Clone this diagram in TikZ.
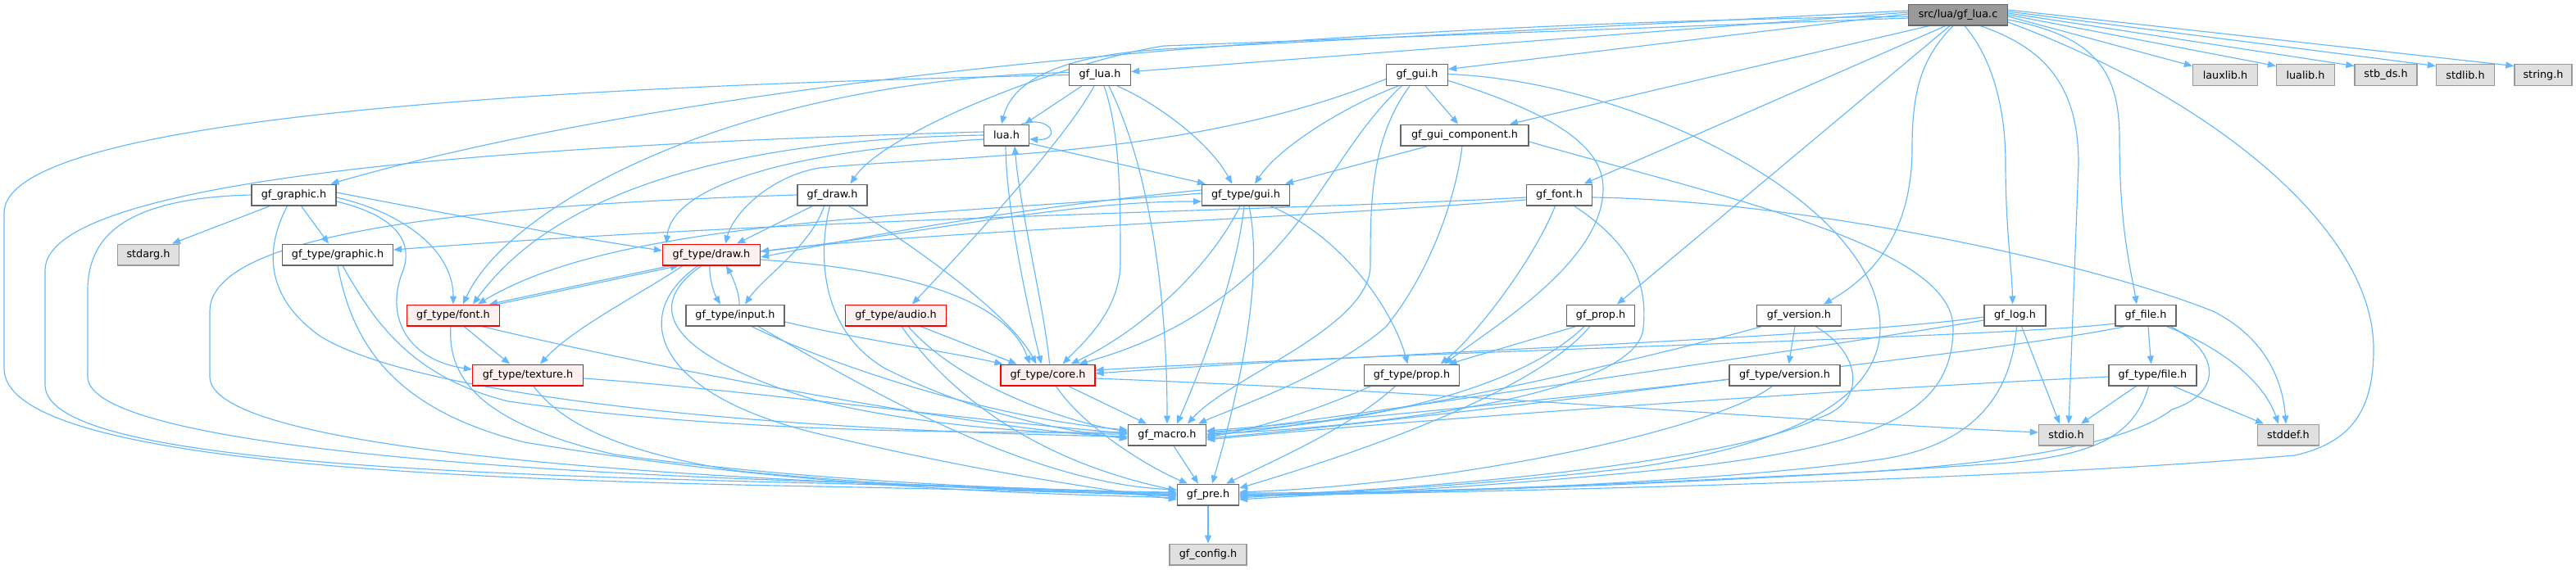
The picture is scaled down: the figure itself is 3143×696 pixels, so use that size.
\documentclass[tikz,border=0pt]{standalone}
\usepackage{fontspec}
\setmainfont{DejaVu Sans}
\usetikzlibrary{arrows.meta}
\definecolor{edgec}{HTML}{63B8FF}
\definecolor{bordc}{HTML}{666666}
\definecolor{extb}{HTML}{999999}
\definecolor{extf}{HTML}{E0E0E0}
\definecolor{redb}{HTML}{FF0000}
\definecolor{redf}{HTML}{FFF0F0}
\definecolor{rootf}{HTML}{999999}
\pgfdeclarelayer{bg}
\pgfsetlayers{bg,main}
\begin{document}
\begin{tikzpicture}[x=1pt,y=-1pt,
  nb/.style={draw=bordc, line width=1.3pt, fill=white, minimum height=25.7pt, inner sep=0pt, font=\fontsize{12.8}{15}\selectfont},
  nr/.style={nb, draw=redb, fill=redf},
  ng/.style={nb, draw=extb, fill=extf},
  nroot/.style={nb, draw=bordc, fill=rootf},
  lnk/.style={draw=edgec, line width=1.15pt, -{Triangle[length=10pt,width=8pt]}}]
\useasboundingbox (0,0) rectangle (3143,696);
% nodes
\node[nroot, minimum width=120.5pt] (root) at (2389,18) {src/lua/gf\_lua.c};
\node[nb, minimum width=75pt] (gflua) at (1342,91.5) {gf\_lua.h};
\node[nb, minimum width=75pt] (gfgui) at (1729,91.5) {gf\_gui.h};
\node[ng, minimum width=79pt] (lauxlib) at (2715,91.5) {lauxlib.h};
\node[ng, minimum width=71pt] (lualib) at (2813,91.5) {lualib.h};
\node[ng, minimum width=76pt] (stbds) at (2911,91.5) {stb\_ds.h};
\node[ng, minimum width=71pt] (stdlib) at (3008,91.5) {stdlib.h};
\node[ng, minimum width=70pt] (string) at (3103,91.5) {string.h};
\node[nb, minimum width=55pt] (lua) at (1228,165) {lua.h};
\node[nb, minimum width=156pt] (guicomp) at (1787,165) {gf\_gui\_component.h};
\node[nb, minimum width=103pt] (graphic) at (358.5,238) {gf\_graphic.h};
\node[nb, minimum width=85pt] (draw) at (1015.5,238) {gf\_draw.h};
\node[nb, minimum width=107pt] (tgui) at (1520,238) {gf\_type/gui.h};
\node[nb, minimum width=80pt] (font) at (1902.5,238) {gf\_font.h};
\node[ng, minimum width=75pt] (stdarg) at (181,311) {stdarg.h};
\node[nb, minimum width=135pt] (tgraphic) at (412,311) {gf\_type/graphic.h};
\node[nr, minimum width=119pt] (tdraw) at (868,311) {gf\_type/draw.h};
\node[nr, minimum width=113pt] (tfont) at (553,385) {gf\_type/font.h};
\node[nb, minimum width=120pt] (tinput) at (897,385) {gf\_type/input.h};
\node[nr, minimum width=123pt] (taudio) at (1093,385) {gf\_type/audio.h};
\node[nb, minimum width=83pt] (prop) at (1953,385) {gf\_prop.h};
\node[nb, minimum width=103pt] (version) at (2195,385) {gf\_version.h};
\node[nb, minimum width=75pt] (log) at (2458.5,385) {gf\_log.h};
\node[nb, minimum width=74pt] (file) at (2618,385) {gf\_file.h};
\node[nr, minimum width=135pt] (ttexture) at (644,458) {gf\_type/texture.h};
\node[nr, minimum width=115pt] (tcore) at (1278.5,458) {gf\_type/core.h};
\node[nb, minimum width=116pt] (tprop) at (1722.5,458) {gf\_type/prop.h};
\node[nb, minimum width=135pt] (tversion) at (2177.5,458) {gf\_type/version.h};
\node[nb, minimum width=107pt] (tfile) at (2626.5,458) {gf\_type/file.h};
\node[nb, minimum width=95pt] (macro) at (1424,531) {gf\_macro.h};
\node[ng, minimum width=67pt] (stdio) at (2521,531) {stdio.h};
\node[ng, minimum width=75pt] (stddef) at (2792,531) {stddef.h};
\node[nb, minimum width=75pt] (pre) at (1474,604) {gf\_pre.h};
\node[ng, minimum width=94pt] (config) at (1474,677) {gf\_config.h};
\begin{pgfonlayer}{bg}
% root
\draw[lnk] ([yshift=3pt]root.west) -- ([yshift=4pt]gflua.east);
\draw[lnk] ([yshift=1pt]root.west) -- ([yshift=7pt]gfgui.east);
\draw[lnk] ([yshift=5pt]root.west) -- (1420,60) .. controls (1290,68) and (1235,100) .. ([xshift=-6pt]lua.north);
\draw[lnk] ([yshift=-2pt]root.west) .. controls (1500,30) and (800,110) .. ([xshift=45pt]graphic.north);
\draw[lnk] ([yshift=-4pt]root.west) -- (1420,56) .. controls (1300,75) and (1080,160) .. ([xshift=22pt]draw.north);
\draw[lnk] ([xshift=-35pt]root.south) -- ([xshift=55pt]guicomp.north);
\draw[lnk] ([xshift=-15pt]root.south) -- ([xshift=30pt]font.north);
\draw[lnk] ([xshift=-10pt]root.south) -- ([xshift=20pt]prop.north);
\draw[lnk] ([xshift=-6pt]root.south) .. controls (2345,70) and (2333,110) .. (2333,180) .. controls (2333,290) and (2280,340) .. ([xshift=30pt]version.north);
\draw[lnk] ([xshift=8pt]root.south) .. controls (2430,70) and (2447,130) .. (2447,200) .. controls (2447,280) and (2455,330) .. ([xshift=-3pt]log.north);
\draw[lnk] ([xshift=27pt]root.south) .. controls (2500,60) and (2536,110) .. (2536,200) -- ([xshift=3pt]stdio.north);
\draw[lnk] ([yshift=-6pt]root.east) .. controls (2560,45) and (2586,90) .. (2586,170) .. controls (2586,280) and (2600,330) .. ([xshift=-11pt]file.north);
\draw[lnk] ([yshift=-2pt]root.east) -- ([yshift=11pt]lauxlib.west);
\draw[lnk] ([yshift=0pt]root.east) -- ([yshift=11pt]lualib.west);
\draw[lnk] ([yshift=2pt]root.east) -- ([yshift=11pt]stbds.west);
\draw[lnk] ([yshift=4pt]root.east) -- ([yshift=11pt]stdlib.west);
\draw[lnk] ([yshift=6pt]root.east) -- ([yshift=11pt]string.west);
\draw[lnk] ([yshift=-9pt]root.east) .. controls (2700,120) and (2896,280) .. (2896,426) .. controls (2896,500) and (2870,540) .. (2800,556) .. controls (2400,590) and (1800,600) .. ([yshift=-2pt]pre.east);
% gf_lua.h
\draw[lnk] ([xshift=-22pt]gflua.south) -- ([xshift=22pt]lua.north);
\draw[lnk] ([xshift=-7pt]gflua.south) .. controls (1300,170) and (1180,300) .. ([xshift=20pt]taudio.north);
\draw[lnk] ([xshift=5pt]gflua.south) .. controls (1367,160) and (1367,250) .. (1367,320) .. controls (1367,380) and (1320,420) .. ([xshift=18pt]tcore.north);
\draw[lnk] ([xshift=11pt]gflua.south) .. controls (1400,200) and (1424,350) .. (macro.north);
\draw[lnk] ([xshift=21pt]gflua.south) .. controls (1420,130) and (1480,180) .. ([xshift=-17pt]tgui.north);
\draw[lnk] (gflua.west) .. controls (700,105) and (5,140) .. (5,260) -- (5,450) .. controls (5,560) and (500,585) .. (1000,594) .. controls (1200,598) and (1350,602) .. ([yshift=-2pt]pre.west);
\draw[lnk] ([yshift=3pt]gflua.west) .. controls (900,98) and (620,250) .. ([xshift=12pt]tfont.north);
% lua.h
\draw[lnk] ([xshift=18pt]lua.north) .. controls (1285,140) and (1295,172) .. ([yshift=-5pt]lua.east);
\draw[lnk] ([yshift=-10pt]lua.east) -- ([xshift=5pt]tgui.north west);
\draw[lnk] ([xshift=-1pt]lua.south) .. controls (1228,260) and (1255,380) .. ([xshift=-8pt]tcore.north);
\draw[lnk] ([xshift=2pt]tcore.north) .. controls (1275,380) and (1245,260) .. ([xshift=10pt]lua.south);
\draw[lnk] ([yshift=0pt]lua.west) .. controls (900,170) and (680,230) .. ([xshift=24pt]tfont.north);
\draw[lnk] ([yshift=-5pt]lua.west) .. controls (950,185) and (820,230) .. ([xshift=-55pt]tdraw.north);
\draw[lnk] ([yshift=4pt]lua.west) .. controls (700,175) and (55,210) .. (55,330) -- (55,470) .. controls (55,560) and (500,578) .. (1000,590) .. controls (1200,595) and (1350,600) .. ([yshift=0pt]pre.west);
% gf_graphic.h
\draw[lnk] ([xshift=-29pt]graphic.south) -- ([xshift=29pt]stdarg.north);
\draw[lnk] ([xshift=9pt]graphic.south) -- ([xshift=-11pt]tgraphic.north);
\draw[lnk] (graphic.west) .. controls (150,242) and (107,290) .. (107,355) -- (107,460) .. controls (107,540) and (600,575) .. (1000,588) .. controls (1200,594) and (1350,600) .. ([yshift=2pt]pre.west);
\draw[lnk] ([yshift=3pt]graphic.east) .. controls (550,262) and (700,290) .. ([yshift=5pt]tdraw.west);
\draw[lnk] ([yshift=-3pt]graphic.east) .. controls (500,262) and (553,310) .. (tfont.north);
\draw[lnk] ([yshift=-8pt]graphic.east) .. controls (490,265) and (505,300) .. (490,335) .. controls (470,390) and (500,440) .. ([yshift=7pt]ttexture.west);
\draw[lnk] ([xshift=-8pt]graphic.south) .. controls (325,300) and (320,360) .. (390,410) .. controls (500,480) and (900,525) .. ([yshift=-2pt]macro.west);
% gf_type/graphic.h
\draw[lnk] ([xshift=6pt]tgraphic.south) .. controls (455,390) and (500,460) .. (620,490) .. controls (900,530) and (1200,528) .. ([yshift=3pt]macro.west);
\draw[lnk] (tgraphic.south) .. controls (430,420) and (480,500) .. (640,540) .. controls (1000,600) and (1300,603) .. ([yshift=-4pt]pre.west);
% gf_font.h
\draw[lnk] ([yshift=-3pt]font.west) .. controls (1600,256) and (1000,265) .. ([yshift=6pt]tgraphic.east);
\draw[lnk] ([yshift=-6pt]font.west) .. controls (1600,265) and (1100,285) .. ([yshift=4pt]tdraw.east);
\draw[lnk] ([xshift=-5pt]font.south) .. controls (1870,320) and (1800,410) .. ([xshift=35pt]tprop.north);
\draw[lnk] ([xshift=18pt]font.south) .. controls (1995,300) and (2010,350) .. (2005,400) .. controls (2000,480) and (1700,520) .. ([yshift=1pt]macro.east);
\draw[lnk] ([yshift=-3pt]font.east) .. controls (2200,245) and (2550,320) .. (2700,380) .. controls (2760,410) and (2785,460) .. ([xshift=-3pt]stddef.north);
% gf_draw.h
\draw[lnk] ([xshift=-24pt]draw.south) -- ([xshift=31pt]tdraw.north);
\draw[lnk] ([xshift=-10pt]draw.south) .. controls (990,300) and (930,340) .. ([xshift=12pt]tinput.north);
\draw[lnk] ([xshift=20pt]draw.south) .. controls (1100,290) and (1230,380) .. ([xshift=-14pt]tcore.north);
\draw[lnk] ([xshift=-3pt]draw.south) .. controls (1000,300) and (995,400) .. (1080,450) .. controls (1200,510) and (1300,525) .. ([yshift=-5pt]macro.west);
\draw[lnk] (draw.west) .. controls (600,250) and (256,280) .. (256,380) -- (256,460) .. controls (256,540) and (700,575) .. (1100,592) .. controls (1250,598) and (1380,603) .. ([yshift=-1pt]pre.west);
% gf_gui.h
\draw[lnk] ([yshift=-5pt]gfgui.west) .. controls (1450,195) and (1150,190) .. (1000,205) .. controls (940,215) and (895,260) .. ([xshift=17pt]tdraw.north);
\draw[lnk] ([xshift=-23pt]gfgui.south) .. controls (1640,130) and (1560,180) .. ([xshift=11pt]tgui.north);
\draw[lnk] ([xshift=-19pt]gfgui.south) .. controls (1620,190) and (1600,300) .. (1450,390) .. controls (1400,420) and (1350,435) .. ([xshift=38pt]tcore.north);
\draw[lnk] ([xshift=-9pt]gfgui.south) .. controls (1672,170) and (1672,250) .. (1672,324) .. controls (1672,400) and (1500,460) .. ([xshift=25pt]macro.north);
\draw[lnk] ([xshift=10pt]gfgui.south) -- ([xshift=-8pt]guicomp.north);
\draw[lnk] ([yshift=-7pt]gfgui.east) .. controls (1900,140) and (1956,180) .. (1956,230) .. controls (1956,320) and (1820,400) .. ([xshift=40pt]tprop.north);
\draw[lnk] ([yshift=1pt]gfgui.east) .. controls (2000,100) and (2294,250) .. (2294,400) .. controls (2294,480) and (2200,540) .. (2000,570) .. controls (1800,595) and (1600,602) .. ([yshift=-4pt]pre.east);
% gf_gui_component.h
\draw[lnk] ([xshift=-45pt]guicomp.south) -- ([xshift=48pt]tgui.north);
\draw[lnk] ([xshift=-3pt]guicomp.south) .. controls (1775,250) and (1740,340) .. (1690,400) .. controls (1620,460) and (1500,500) .. ([xshift=38pt]macro.north);
\draw[lnk] ([yshift=-8pt]guicomp.east) .. controls (2100,240) and (2383,300) .. (2383,400) .. controls (2383,500) and (2300,540) .. (2080,568) .. controls (1800,598) and (1600,604) .. ([yshift=-6pt]pre.east);
% gf_type/gui.h
\draw[lnk] ([yshift=6pt]tgui.west) .. controls (1200,258) and (1000,300) .. ([yshift=-3pt]tdraw.east);
\draw[lnk] ([yshift=2pt]tgui.west) .. controls (1100,265) and (750,270) .. ([xshift=30pt]tfont.north);
\draw[lnk] ([yshift=4pt]tdraw.east) .. controls (1100,290) and (1300,245) .. ([yshift=-8pt]tgui.west);
\draw[lnk] ([xshift=-7pt]tgui.south) .. controls (1480,320) and (1400,400) .. ([xshift=28pt]tcore.north);
\draw[lnk] ([xshift=-2pt]tgui.south) .. controls (1510,330) and (1470,440) .. ([xshift=12pt]macro.north);
\draw[lnk] ([xshift=4pt]tgui.south) .. controls (1540,330) and (1520,450) .. ([xshift=5pt]pre.north);
\draw[lnk] ([xshift=30pt]tgui.south) .. controls (1640,290) and (1700,380) .. ([xshift=-5pt]tprop.north);
% gf_type/draw.h
\draw[lnk] ([xshift=-50pt]tdraw.south) -- ([xshift=44pt]tfont.north);
\draw[lnk] ([xshift=54pt]tfont.north) -- ([xshift=-40pt]tdraw.south);
\draw[lnk] ([xshift=-35pt]tdraw.south) .. controls (780,360) and (700,400) .. ([xshift=15pt]ttexture.north);
\draw[lnk] ([xshift=-2pt]tdraw.south) .. controls (865,340) and (872,360) .. ([xshift=-18pt]tinput.north);
\draw[lnk] ([xshift=5pt]tinput.north) .. controls (902,355) and (892,335) .. ([xshift=18pt]tdraw.south);
\draw[lnk] ([xshift=-12pt]tdraw.south) .. controls (790,370) and (800,430) .. (1000,490) .. controls (1150,525) and (1300,530) .. ([yshift=1pt]macro.west);
\draw[lnk] ([xshift=-16pt]tdraw.south) .. controls (770,380) and (790,480) .. (1000,530) .. controls (1200,578) and (1350,598) .. ([yshift=-6pt]pre.west);
\draw[lnk] ([yshift=-6pt]tdraw.east) .. controls (1120,330) and (1230,370) .. ([xshift=-22pt]tcore.north);
% gf_type/font.h
\draw[lnk] ([xshift=13pt]tfont.south) -- ([xshift=-22pt]ttexture.north);
\draw[lnk] ([xshift=35pt]tfont.south) .. controls (800,450) and (1200,525) .. ([yshift=-3pt]macro.west);
\draw[lnk] ([xshift=-3pt]tfont.south) .. controls (545,470) and (600,520) .. (750,555) .. controls (1000,590) and (1300,600) .. ([yshift=3pt]pre.west);
% gf_type/texture.h
\draw[lnk] ([yshift=-4pt]ttexture.east) .. controls (900,475) and (1200,515) .. ([yshift=2pt]macro.west);
\draw[lnk] ([xshift=7pt]ttexture.south) .. controls (680,510) and (740,550) .. (900,575) .. controls (1100,595) and (1300,602) .. ([yshift=1pt]pre.west);
% gf_type/audio.h
\draw[lnk] ([xshift=30pt]taudio.south) -- ([xshift=-38pt]tcore.north);
\draw[lnk] ([xshift=15pt]taudio.south) .. controls (1170,470) and (1300,515) .. ([yshift=4pt]macro.west);
\draw[lnk] ([xshift=7pt]taudio.south) .. controls (1150,470) and (1250,560) .. ([yshift=5pt]pre.west);
% gf_type/input.h
\draw[lnk] ([yshift=-8pt]tinput.east) .. controls (1050,415) and (1150,428) .. ([xshift=-55pt]tcore.north);
\draw[lnk] ([xshift=20pt]tinput.south) .. controls (1000,440) and (1200,510) .. ([yshift=6pt]macro.west);
\draw[lnk] ([xshift=28pt]tinput.south) .. controls (1050,470) and (1250,590) .. ([yshift=6pt]pre.west);
% gf_prop.h
\draw[lnk] ([xshift=-30pt]prop.south) -- ([xshift=45pt]tprop.north);
\draw[lnk] ([xshift=-20pt]prop.south) .. controls (1850,480) and (1650,520) .. ([yshift=4pt]macro.east);
\draw[lnk] ([xshift=-13pt]prop.south) .. controls (1880,470) and (1700,540) .. ([yshift=8pt]pre.east);
% gf_version.h
\draw[lnk] ([xshift=-5pt]version.south) -- ([xshift=5pt]tversion.north);
\draw[lnk] ([xshift=-45pt]version.south) .. controls (2000,440) and (1700,510) .. ([yshift=-1pt]macro.east);
\draw[lnk] ([xshift=20pt]version.south) .. controls (2270,430) and (2280,490) .. (2220,510) .. controls (2100,570) and (1700,600) .. ([yshift=-1pt]pre.east);
% gf_type/version.h
\draw[lnk] ([yshift=-5pt]tversion.west) .. controls (1900,490) and (1600,525) .. ([yshift=-4pt]macro.east);
\draw[lnk] ([xshift=-15pt]tversion.south) .. controls (2100,520) and (1800,590) .. ([yshift=3pt]pre.east);
% gf_log.h
\draw[lnk] ([xshift=8pt]log.south) -- ([xshift=-8pt]stdio.north);
\draw[lnk] ([xshift=2pt]log.south) .. controls (2455,470) and (2420,540) .. (2300,560) .. controls (2100,590) and (1700,604) .. (pre.east);
\draw[lnk] ([yshift=-2pt]log.west) .. controls (2250,412) and (1700,430) .. ([yshift=2pt]tcore.east);
\draw[lnk] ([yshift=-6pt]log.west) .. controls (2250,420) and (1700,500) .. ([yshift=1pt]macro.east);
% gf_file.h
\draw[lnk] ([xshift=3pt]file.south) -- ([xshift=-2pt]tfile.north);
\draw[lnk] ([xshift=25pt]file.south) .. controls (2700,420) and (2760,460) .. ([xshift=-12pt]stddef.north);
\draw[lnk] ([yshift=-10pt]file.west) .. controls (2450,412) and (1700,430) .. ([yshift=6pt]tcore.east);
\draw[lnk] ([xshift=-25pt]file.south) .. controls (2450,430) and (1750,505) .. ([yshift=5pt]macro.east);
\draw[lnk] ([xshift=30pt]file.south) .. controls (2710,430) and (2712,480) .. (2650,500) .. controls (2600,540) and (2450,570) .. (2200,580) .. controls (1900,595) and (1700,602) .. ([yshift=2pt]pre.east);
% gf_type/file.h
\draw[lnk] ([xshift=-20pt]tfile.south) -- ([xshift=18pt]stdio.north);
\draw[lnk] ([xshift=25pt]tfile.south) -- ([xshift=-30pt]stddef.north);
\draw[lnk] ([yshift=-2pt]tfile.west) .. controls (2200,478) and (1700,515) .. ([yshift=-6pt]macro.east);
\draw[lnk] ([xshift=-5pt]tfile.south) .. controls (2605,530) and (2560,555) .. (2450,565) .. controls (2100,590) and (1700,604) .. ([yshift=1pt]pre.east);
% gf_type/prop.h
\draw[lnk] ([xshift=-50pt]tprop.south) .. controls (1620,495) and (1550,520) .. ([yshift=-3pt]macro.east);
\draw[lnk] ([xshift=-20pt]tprop.south) .. controls (1650,520) and (1560,560) .. ([xshift=22pt]pre.north);
% gf_type/core.h
\draw[lnk] ([xshift=25pt]tcore.south) -- ([xshift=-25pt]macro.north);
\draw[lnk] ([xshift=10pt]tcore.south) .. controls (1320,520) and (1400,570) .. ([xshift=-25pt]pre.north);
\draw[lnk] ([yshift=-4pt]tcore.east) .. controls (1800,480) and (2200,515) .. ([yshift=3pt]stdio.west);
% macro, pre
\draw[lnk] ([xshift=8pt]macro.south) -- ([xshift=-12pt]pre.north);
\draw[lnk] (pre.south) -- (config.north);
\end{pgfonlayer}
\end{tikzpicture}
\end{document}
